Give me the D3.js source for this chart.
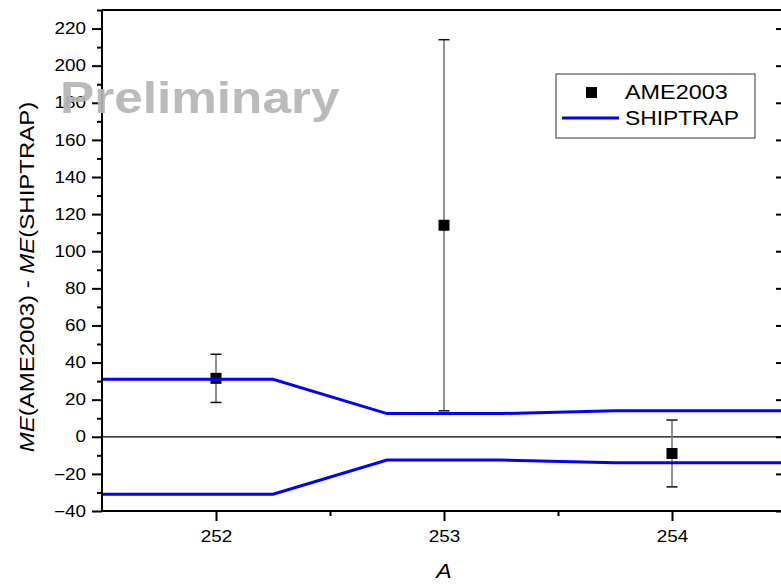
<!DOCTYPE html>
<html>
<head>
<meta charset="utf-8">
<script src="https://cdn.jsdelivr.net/npm/d3@7"></script>
<style>
  html, body { margin: 0; padding: 0; background: #fff; }
  svg { display: block; font-family: "Liberation Sans", Arial, Helvetica, sans-serif; }
</style>
</head>
<body>
<svg id="chart" width="781" height="584"></svg>
<script>
// Mass number A for the AME2003 comparison points
const massNumbers = [252, 253, 254];
// ME(AME2003) - ME(SHIPTRAP), keV
const ameDiff = [31.5, 114, -9];
// AME2003 uncertainties, keV
const ameErr = [13, 100, 18];

// SHIPTRAP uncertainty band (upper edge; lower edge is its mirror)
const bandA = [251.5, 252.25, 252.75, 253.25, 253.75, 254.5];
const bandUpper = [31, 31, 12.5, 12.5, 14, 14];
const bandLower = bandUpper.map(v => -v);

const xTicks = [252, 253, 254];
const xMinorTicks = [252.5, 253.5];
const yTicks = [-40, -20, 0, 20, 40, 60, 80, 100, 120, 140, 160, 180, 200, 220];
const yMinorTicks = [-30, -10, 10, 30, 50, 70, 90, 110, 130, 150, 170, 190, 210, 230];

const svg = d3.select("#chart");

const x = d3.scaleLinear().domain([251.5, 254.5]).range([102, 786]);
const y = d3.scaleLinear().domain([-40, 230]).range([511, 10]);

const sx = 1.18; // horizontal stretch of the tick-label glyphs

function styleTicks(g) {
  g.select(".domain").remove();
  g.selectAll("line").attr("stroke", "#000").attr("stroke-width", 2);
}

// zero reference line
svg.append("line")
  .attr("x1", x(251.5)).attr("x2", x(254.5))
  .attr("y1", y(0)).attr("y2", y(0))
  .attr("stroke", "#000").attr("stroke-width", 1.2);

// error bars
const eb = svg.append("g");
massNumbers.forEach((a, i) => {
  const cx = x(a), top = y(ameDiff[i] + ameErr[i]), bot = y(ameDiff[i] - ameErr[i]);
  eb.append("line").attr("x1", cx).attr("x2", cx).attr("y1", top).attr("y2", bot)
    .attr("stroke", "#6e6e6e").attr("stroke-width", 1.5);
  [top, bot].forEach(yy => eb.append("line")
    .attr("x1", cx - 5.5).attr("x2", cx + 5.5).attr("y1", yy).attr("y2", yy)
    .attr("stroke", "#111").attr("stroke-width", 1.5));
});

// AME2003 markers
svg.append("g").selectAll("rect").data(massNumbers).join("rect")
  .attr("x", d => x(d) - 5.5)
  .attr("y", (d, i) => y(ameDiff[i]) - 5.5)
  .attr("width", 11).attr("height", 11)
  .attr("fill", "#000");

// SHIPTRAP band edges
const line = d3.line().x(d => x(d[0])).y(d => y(d[1]));
[bandUpper, bandLower].forEach(vals => {
  svg.append("path")
    .datum(bandA.map((a, i) => [a, vals[i]]))
    .attr("d", line)
    .attr("fill", "none")
    .attr("stroke", "#0000ff")
    .attr("stroke-width", 3);
});

// frame lines
svg.append("line").attr("x1", x(251.5)).attr("x2", x(254.5)).attr("y1", y(230)).attr("y2", y(230))
  .attr("stroke", "#000").attr("stroke-width", 2);
svg.append("line").attr("x1", x(251.5)).attr("x2", x(251.5)).attr("y1", y(230)).attr("y2", y(-40))
  .attr("stroke", "#000").attr("stroke-width", 2);
svg.append("line").attr("x1", x(251.5)).attr("x2", x(254.5)).attr("y1", y(-40)).attr("y2", y(-40))
  .attr("stroke", "#000").attr("stroke-width", 2);

// right axis: inward ticks
svg.append("g").attr("transform", `translate(${x(254.5)},0)`)
  .call(d3.axisLeft(y).tickValues(yTicks).tickSize(10).tickFormat(""))
  .call(styleTicks);
svg.append("g").attr("transform", `translate(${x(254.5)},0)`)
  .call(d3.axisLeft(y).tickValues(yMinorTicks).tickSize(5).tickFormat(""))
  .call(styleTicks);

// left axis: outward ticks
svg.append("g").attr("transform", `translate(${x(251.5)},0)`)
  .call(d3.axisLeft(y).tickValues(yMinorTicks).tickSize(5).tickFormat(""))
  .call(styleTicks);
const leftAxis = svg.append("g").attr("transform", `translate(${x(251.5)},0)`)
  .call(d3.axisLeft(y).tickValues(yTicks).tickSize(10).tickPadding(6))
  .call(styleTicks);
leftAxis.selectAll("text")
  .attr("font-size", 16)
  .attr("fill", "#000")
  .attr("font-family", "Liberation Sans, Arial, sans-serif")
  .attr("transform", function() {
    const xx = +d3.select(this).attr("x");
    return `translate(${xx},0) scale(${sx},1) translate(${-xx},0)`;
  });

// bottom axis: outward ticks
svg.append("g").attr("transform", `translate(0,${y(-40)})`)
  .call(d3.axisBottom(x).tickValues(xMinorTicks).tickSize(5).tickFormat(""))
  .call(styleTicks);
const bottomAxis = svg.append("g").attr("transform", `translate(0,${y(-40)})`)
  .call(d3.axisBottom(x).tickValues(xTicks).tickSize(10).tickPadding(10).tickFormat(d3.format("d")))
  .call(styleTicks);
bottomAxis.selectAll("text")
  .attr("font-size", 16)
  .attr("fill", "#000")
  .attr("font-family", "Liberation Sans, Arial, sans-serif")
  .attr("transform", `scale(${sx},1)`);

// axis titles
const yTitle = svg.append("text")
  .attr("transform", `translate(34,277) rotate(-90) scale(1.2,1)`)
  .attr("text-anchor", "middle")
  .attr("font-size", 20);
yTitle.append("tspan").attr("font-style", "italic").text("ME");
yTitle.append("tspan").text("(AME2003) - ");
yTitle.append("tspan").attr("font-style", "italic").text("ME");
yTitle.append("tspan").text("(SHIPTRAP)");

svg.append("text")
  .attr("transform", `translate(${x(253)},578) scale(1.15,1)`)
  .attr("text-anchor", "middle")
  .attr("font-size", 20)
  .attr("font-style", "italic")
  .text("A");

// legend
const lg = svg.append("g");
lg.append("rect").attr("x", 556).attr("y", 74).attr("width", 199).attr("height", 64)
  .attr("fill", "#fff").attr("stroke", "#333").attr("stroke-width", 1);
lg.append("rect").attr("x", 586).attr("y", 87).attr("width", 11).attr("height", 11).attr("fill", "#000");
lg.append("line").attr("x1", 562).attr("x2", 619).attr("y1", 118).attr("y2", 118)
  .attr("stroke", "#0000ff").attr("stroke-width", 3);
lg.append("text").attr("transform", `translate(625,99) scale(1.17,1)`).attr("font-size", 20).text("AME2003");
lg.append("text").attr("transform", `translate(625,125) scale(1.14,1)`).attr("font-size", 20).text("SHIPTRAP");

// watermark
svg.append("text")
  .attr("transform", `translate(60,113) scale(1.14,1)`)
  .attr("font-size", 45)
  .attr("font-weight", "bold")
  .attr("fill", "#b4b4b4")
  .attr("fill-opacity", 0.92)
  .text("Preliminary");
</script>
</body>
</html>
